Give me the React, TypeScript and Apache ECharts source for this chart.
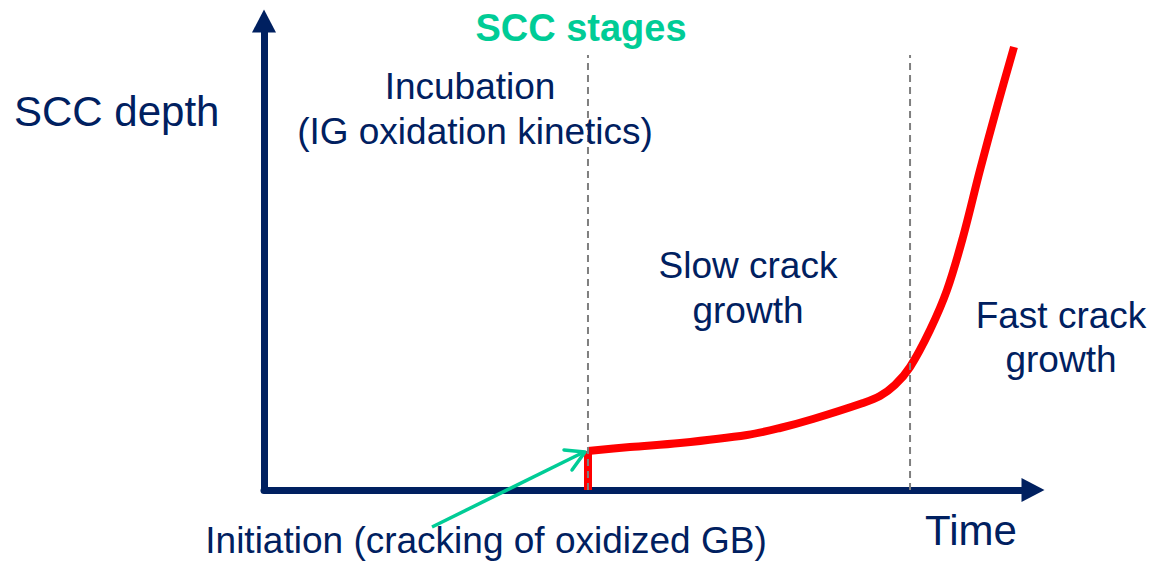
import React, { useEffect, useRef } from 'react';
import * as echarts from 'echarts';

// Red SCC depth curve (time, depth) in axis units 0..100
const curveTime = [42.13, 47.59, 54.1, 62.81, 67.1, 71.39, 77.89, 80.1, 82.05, 84.01, 86.61, 88.82, 90.9, 93.11, 95.32, 97.53];
const curveDepth = [8.32, 9.17, 10.02, 11.73, 13.22, 15.14, 18.55, 20.04, 22.39, 26.23, 34.12, 42.64, 53.94, 68.23, 81.66, 94.46];
// Initiation jump
const initiationTime = 42.13;
const initiationDepth = [0, 8.32];
// Stage boundaries (dashed)
const stageBoundaries = [42.13, 84.01];
const boundaryTop = 92.75;

const NAVY = '#002060';
const GREEN = '#00CC96';
const FONT = '"Liberation Sans", Arial, sans-serif';

export default function App() {
  const ref = useRef<HTMLDivElement>(null);
  useEffect(() => {
    if (!ref.current) return;
    const chart = echarts.init(ref.current, undefined, { renderer: 'svg' });
    const text = (t: string, x: number, y: number, size: number, opts: any = {}) => ({
      type: 'text',
      x,
      y,
      z: 10,
      style: {
        text: t,
        fill: opts.fill || NAVY,
        font: `${opts.bold ? 'bold ' : ''}${size}px ${FONT}`,
        align: opts.align || 'center',
        verticalAlign: 'middle',
        lineHeight: opts.lineHeight || size * 1.2,
      },
    });
    chart.setOption({
      animation: false,
      grid: { left: 264, right: 120, top: 21, bottom: 71 },
      xAxis: {
        type: 'value',
        min: 0,
        max: 100,
        axisLine: {
          show: true,
          symbol: ['none', 'triangle'],
          symbolSize: [24, 23],
          lineStyle: { color: NAVY, width: 7, cap: 'round' },
        },
        axisTick: { show: false },
        axisLabel: { show: false },
        splitLine: { show: false },
      },
      yAxis: {
        type: 'value',
        min: 0,
        max: 100,
        axisLine: {
          show: true,
          symbol: ['none', 'triangle'],
          symbolSize: [24, 23],
          lineStyle: { color: NAVY, width: 7, cap: 'round' },
        },
        axisTick: { show: false },
        axisLabel: { show: false },
        splitLine: { show: false },
      },
      series: [
        {
          type: 'line',
          data: initiationDepth.map((d) => [initiationTime, d]),
          symbol: 'none',
          lineStyle: { color: '#FF0000', width: 8, cap: 'butt', join: 'miter' },
          z: 2,
        },
        {
          type: 'line',
          data: curveTime.map((t, i) => [t, curveDepth[i]]),
          symbol: 'none',
          smooth: 0.35,
          lineStyle: { color: '#FF0000', width: 8, cap: 'butt' },
          z: 2,
        },
        ...stageBoundaries.map((b) => ({
          type: 'line',
          data: [
            [b, 0],
            [b, boundaryTop],
          ],
          symbol: 'none',
          lineStyle: { color: '#7F7F7F', width: 2, type: [7, 5] },
          z: 3,
        })),
      ],
      graphic: [
        text('SCC stages', 581, 28, 38, { bold: true, fill: GREEN }),
        text('SCC depth', 14, 111, 42, { align: 'left' }),
        text('Incubation', 470, 86, 37),
        text('(IG oxidation kinetics)', 475, 131, 37),
        text('Slow crack\ngrowth', 748, 288, 37, { lineHeight: 45 }),
        text('Fast crack\ngrowth', 1061, 337, 37, { lineHeight: 44 }),
        text('Time', 971, 530, 42),
        text('Initiation (cracking of oxidized GB)', 486, 540, 37),
        {
          type: 'line',
          z: 10,
          shape: { x1: 432, y1: 527, x2: 584, y2: 452 },
          style: { stroke: GREEN, lineWidth: 3.5 },
        },
        {
          type: 'polyline',
          z: 10,
          shape: { points: [[564, 450], [585, 452], [572, 470]] },
          style: { stroke: GREEN, lineWidth: 3.5, fill: null, lineJoin: 'round', lineCap: 'round' },
        },
      ],
    });
    return () => chart.dispose();
  }, []);
  return (
    <div
      ref={ref}
      style={{ position: 'fixed', left: 0, top: 0, width: 1153, height: 561, background: '#fff' }}
    />
  );
}
